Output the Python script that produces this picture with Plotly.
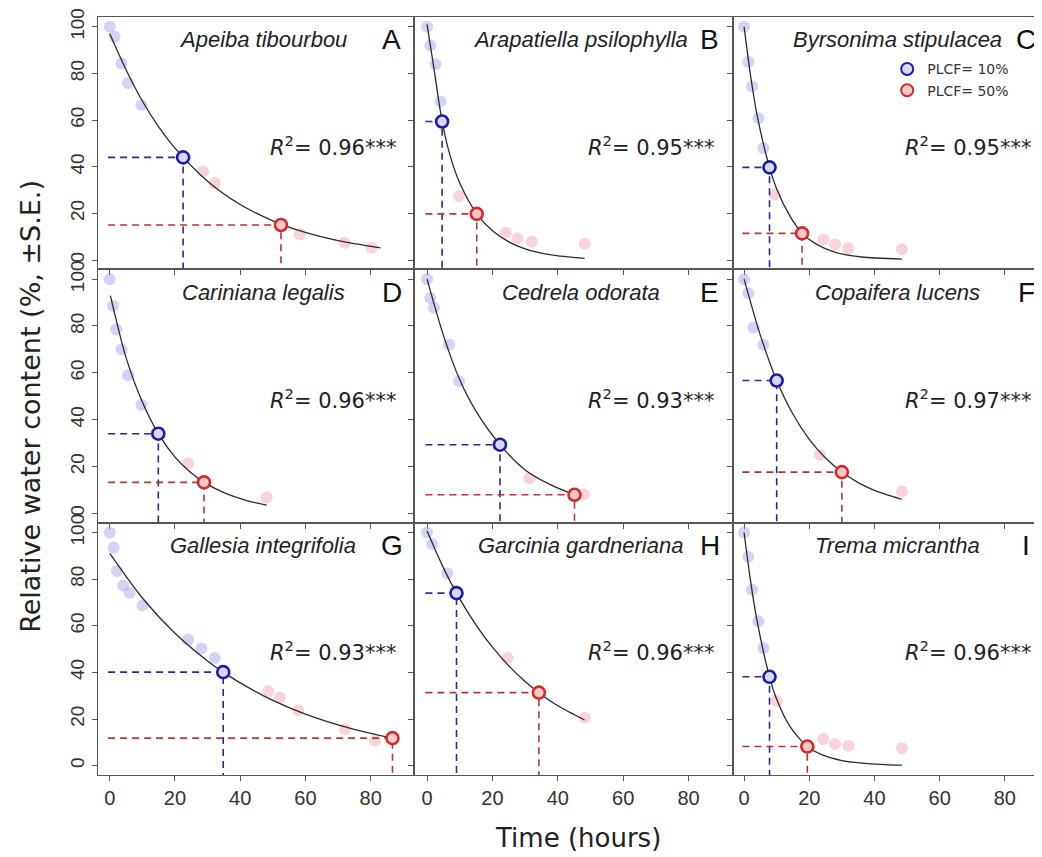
import plotly.graph_objects as go

# ---------------- data ----------------
species = ["Apeiba tibourbou", "Arapatiella psilophylla", "Byrsonima stipulacea",
           "Cariniana legalis", "Cedrela odorata", "Copaifera lucens",
           "Gallesia integrifolia", "Garcinia gardneriana", "Trema micrantha"]
letters = ["A", "B", "C", "D", "E", "F", "G", "H", "I"]
r2_values = ["0.96", "0.95", "0.95", "0.96", "0.93", "0.97", "0.93", "0.96", "0.96"]

x_ticks = [0, 20, 40, 60, 80]
y_ticks = [0, 20, 40, 60, 80, 100]

# A  Apeiba tibourbou
A_obs_t = [0, 1.5, 3.6, 5.6, 9.7, 28.6, 32.2, 58.3, 72, 80.3]
A_obs_rwc = [100, 95.7, 84.3, 75.9, 66.5, 38, 33, 11, 7.4, 5.3]
A_fit_t = [0, 5, 10, 15, 20, 30, 40, 50, 60, 70, 83]
A_fit_rwc = [97, 81.6, 68.2, 57.1, 48.0, 33.8, 23.8, 16.8, 11.8, 8.3, 5.2]
A_plcf10 = [22.5, 44]
A_plcf50 = [52.5, 15]

# B  Arapatiella psilophylla
B_obs_t = [0, 1, 2.6, 4.1, 9.8, 24.1, 27.7, 32.1, 48.2]
B_obs_rwc = [100, 92, 84, 68, 27.4, 11.7, 9.3, 7.8, 7]
B_fit_t = [0, 2, 4.6, 7, 10, 15.2, 20, 25, 30, 38, 48.2]
B_fit_rwc = [101, 83, 59.4, 45, 33, 19.8, 12.5, 7.8, 4.8, 2.2, 0.7]
B_plcf10 = [4.6, 59.4]
B_plcf50 = [15.2, 19.8]

# C  Byrsonima stipulacea
C_obs_t = [0, 1.3, 2.5, 4.4, 5.9, 9.5, 24.3, 27.9, 32, 48.4]
C_obs_rwc = [100, 85, 74.4, 60.8, 48, 28, 8.8, 6.7, 5, 4.6]
C_fit_t = [0, 2, 4, 7.8, 10, 14, 17.8, 22, 28, 36, 48.4]
C_fit_rwc = [100, 79, 62, 39.7, 30.5, 19, 11.4, 6.9, 3.3, 1.3, 0.4]
C_plcf10 = [7.8, 39.7]
C_plcf50 = [17.8, 11.4]

# D  Cariniana legalis
D_obs_t = [0, 1, 2, 3.6, 5.6, 9.7, 24, 48.1]
D_obs_rwc = [100, 88.6, 78.6, 70, 59, 46.4, 21.4, 6.7]
D_fit_t = [0.2, 2, 5, 10, 14.9, 20, 25, 28.9, 35, 42, 48.1]
D_fit_rwc = [93, 82.5, 66.5, 47.5, 34, 24, 17.2, 13.2, 8.8, 5.4, 3.5]
D_plcf10 = [14.9, 34]
D_plcf50 = [28.9, 13.2]

# E  Cedrela odorata
E_obs_t = [0, 1, 2.1, 6.7, 9.8, 31.3, 48]
E_obs_rwc = [100, 92, 87.8, 72, 56.4, 15, 8]
E_fit_t = [0, 5, 10, 15, 22.3, 30, 38, 45.1]
E_fit_rwc = [100, 76, 57, 43.5, 29.3, 18.5, 12, 7.9]
E_plcf10 = [22.3, 29.3]
E_plcf50 = [45.1, 7.9]

# F  Copaifera lucens
F_obs_t = [0, 1.3, 2.9, 5.9, 23.3, 48.4]
F_obs_rwc = [100, 94, 79.3, 72, 25, 9.3]
F_fit_t = [0, 5, 10, 15, 20, 25, 30, 35, 40, 48.4]
F_fit_rwc = [100, 76, 56.7, 42.3, 31.6, 23.6, 17.6, 13.1, 9.8, 6.0]
F_plcf10 = [10, 56.7]
F_plcf50 = [30, 17.6]

# G  Gallesia integrifolia
G_obs_t = [0, 1.2, 2.2, 4.1, 6.1, 10, 24, 28.1, 32.2, 48.6, 52.1, 57.8, 72.1, 81.3]
G_obs_rwc = [100, 93.5, 83.5, 77.3, 74, 68.7, 54, 50.2, 46.2, 32, 29.2, 23.8, 15.7, 10.7]
G_fit_t = [0, 10, 20, 30, 34.8, 40, 50, 60, 70, 80, 86.7]
G_fit_rwc = [91, 71.9, 56.8, 44.9, 40.1, 35.5, 28, 22.1, 17.5, 13.8, 11.8]
G_plcf10 = [34.8, 40.1]
G_plcf50 = [86.7, 11.8]

# H  Garcinia gardneriana
H_obs_t = [0, 1.5, 6.2, 24.6, 48.2]
H_obs_rwc = [100, 95, 82.4, 46.2, 20.6]
H_fit_t = [0, 5, 9, 15, 20, 25, 30, 34.2, 40, 48.2]
H_fit_rwc = [100.6, 84.8, 74, 60.3, 50.8, 42.8, 36.1, 31.3, 25.7, 19.6]
H_plcf10 = [9, 74]
H_plcf50 = [34.2, 31.3]

# I  Trema micrantha
I_obs_t = [0, 1.3, 2.4, 4.4, 5.9, 10, 24.3, 27.9, 32, 48.4]
I_obs_rwc = [100, 89.6, 75.4, 61.9, 50.5, 27.7, 11.4, 9.3, 8.5, 7.5]
I_fit_t = [0, 2, 4, 7.8, 10, 14, 19.4, 24, 30, 38, 48.4]
I_fit_rwc = [100, 79, 62, 38.1, 28.5, 17, 8.2, 4.6, 2.2, 0.9, 0.2]
I_plcf10 = [7.8, 38.1]
I_plcf50 = [19.4, 8.2]

panels = [
    (A_obs_t, A_obs_rwc, A_fit_t, A_fit_rwc, A_plcf10, A_plcf50),
    (B_obs_t, B_obs_rwc, B_fit_t, B_fit_rwc, B_plcf10, B_plcf50),
    (C_obs_t, C_obs_rwc, C_fit_t, C_fit_rwc, C_plcf10, C_plcf50),
    (D_obs_t, D_obs_rwc, D_fit_t, D_fit_rwc, D_plcf10, D_plcf50),
    (E_obs_t, E_obs_rwc, E_fit_t, E_fit_rwc, E_plcf10, E_plcf50),
    (F_obs_t, F_obs_rwc, F_fit_t, F_fit_rwc, F_plcf10, F_plcf50),
    (G_obs_t, G_obs_rwc, G_fit_t, G_fit_rwc, G_plcf10, G_plcf50),
    (H_obs_t, H_obs_rwc, H_fit_t, H_fit_rwc, H_plcf10, H_plcf50),
    (I_obs_t, I_obs_rwc, I_fit_t, I_fit_rwc, I_plcf10, I_plcf50),
]

# ---------------- layout / style ----------------
col_domains = [[0.0, 0.33475], [0.33475, 0.67267], [0.67267, 1.0]]
row_domains = [[0.6671, 1.0], [0.3329, 0.6671], [0.0, 0.3329]]
x_ranges = [[-3.6, 93.3], [-4.0, 93.6], [-3.4, 91.4]]
y_range = [-4.0, 104.2]

BLUE_PT = "rgba(150,150,230,0.42)"
PINK_PT = "rgba(240,150,165,0.42)"
BLUE_DASH = "#2a2a8a"
RED_DASH = "#b03838"
TICK_FONT_X = dict(family="Liberation Sans, Arial, sans-serif", size=20, color="#333")
TICK_FONT_Y = dict(family="Liberation Sans Narrow, Arial Narrow, Liberation Sans, sans-serif", size=19, color="#333")

fig = go.Figure()
layout_axes = {}
annotations = []

for i, (obs_t, obs_rwc, fit_t, fit_rwc, p10, p50) in enumerate(panels):
    r, c = divmod(i, 3)
    k = i + 1
    xa = "x" if k == 1 else f"x{k}"
    ya = "y" if k == 1 else f"y{k}"

    colors = [BLUE_PT if t <= p10[0] else PINK_PT for t in obs_t]
    fig.add_trace(go.Scatter(x=obs_t, y=obs_rwc, mode="markers", xaxis=xa, yaxis=ya,
                             marker=dict(size=12, color=colors, line=dict(width=0)),
                             showlegend=False, hoverinfo="skip"))
    fig.add_trace(go.Scatter(x=fit_t, y=fit_rwc, mode="lines", xaxis=xa, yaxis=ya,
                             line=dict(color="#2b2b2b", width=1.3, shape="spline", smoothing=0.8),
                             showlegend=False, hoverinfo="skip"))
    x_left = -0.5
    y_bot = y_range[0]
    for p, dcol in ((p10, BLUE_DASH), (p50, RED_DASH)):
        fig.add_trace(go.Scatter(x=[x_left, p[0], p[0]], y=[p[1], p[1], y_bot], mode="lines",
                                 xaxis=xa, yaxis=ya,
                                 line=dict(color=dcol, width=1.6, dash="7px,5px"),
                                 showlegend=False, hoverinfo="skip"))
    fig.add_trace(go.Scatter(x=[p10[0]], y=[p10[1]], mode="markers", xaxis=xa, yaxis=ya,
                             name="PLCF= 10%", legendgroup="p10", showlegend=(i == 0),
                             marker=dict(size=12, color="#d8d8ff", line=dict(color="#1c1ca8", width=2.6)),
                             hoverinfo="skip"))
    fig.add_trace(go.Scatter(x=[p50[0]], y=[p50[1]], mode="markers", xaxis=xa, yaxis=ya,
                             name="PLCF= 50%", legendgroup="p50", showlegend=(i == 0),
                             marker=dict(size=12, color="#ffc8c8", line=dict(color="#d02a2a", width=2.6)),
                             hoverinfo="skip"))

    xkey = "xaxis" if k == 1 else f"xaxis{k}"
    ykey = "yaxis" if k == 1 else f"yaxis{k}"
    layout_axes[xkey] = dict(domain=col_domains[c], range=x_ranges[c], anchor=ya,
                             tickvals=x_ticks, showticklabels=(r == 2), ticks="outside",
                             ticklen=5, tickwidth=1, tickcolor="#555", tickfont=TICK_FONT_X,
                             showline=True, linecolor="#555", linewidth=1.3, mirror=True,
                             showgrid=False, zeroline=False, fixedrange=True)
    layout_axes[ykey] = dict(domain=row_domains[r], range=y_range, anchor=xa,
                             tickvals=y_ticks, showticklabels=(c == 0), ticks="outside",
                             ticklen=5, tickwidth=1, tickcolor="#555", tickangle=-90,
                             tickfont=TICK_FONT_Y,
                             showline=True, linecolor="#555", linewidth=1.3, mirror=(c != 2),
                             showgrid=False, zeroline=False, fixedrange=True)

    annotations.append(dict(x=47, y=94.5, xref=xa, yref=ya, text=f"<i>{species[i]}</i>",
                            showarrow=False, xanchor="center", yanchor="middle",
                            font=dict(family="Liberation Sans, Arial, sans-serif", size=22, color="#222")))
    annotations.append(dict(x=86.5, y=94.5, xref=xa, yref=ya, text=letters[i],
                            showarrow=False, xanchor="center", yanchor="middle",
                            font=dict(family="Liberation Sans, Arial, sans-serif", size=28, color="#111")))
    annotations.append(dict(x=88.5, y=49, xref=xa, yref=ya,
                            text=f"<i>R</i><sup>2</sup>= {r2_values[i]}***",
                            showarrow=False, xanchor="right", yanchor="middle",
                            font=dict(family="DejaVu Sans, sans-serif", size=21, color="#222")))

annotations.append(dict(x=0.508, y=-0.083, xref="paper", yref="paper", text="Time (hours)",
                        showarrow=False, xanchor="center", yanchor="middle",
                        font=dict(family="DejaVu Sans, sans-serif", size=26, color="#222")))
annotations.append(dict(x=-0.071, y=0.487, xref="paper", yref="paper",
                        text="Relative water content (%, ±S.E.)", textangle=-90,
                        showarrow=False, xanchor="center", yanchor="middle",
                        font=dict(family="DejaVu Sans, sans-serif", size=27, color="#222")))

# the page body adds an 8 px offset, so the figure is sized/margined to compensate
fig.update_layout(
    width=1034, height=849,
    margin=dict(l=90, r=0, t=7, b=82, pad=0),
    paper_bgcolor="white", plot_bgcolor="white",
    annotations=annotations,
    legend=dict(x=0.836, y=0.952, xanchor="left", yanchor="top",
                bgcolor="rgba(0,0,0,0)", borderwidth=0, itemsizing="constant",
                font=dict(family="DejaVu Sans, sans-serif", size=14, color="#333"),
                tracegroupgap=0),
    **layout_axes,
)

fig.write_html("out.html")
